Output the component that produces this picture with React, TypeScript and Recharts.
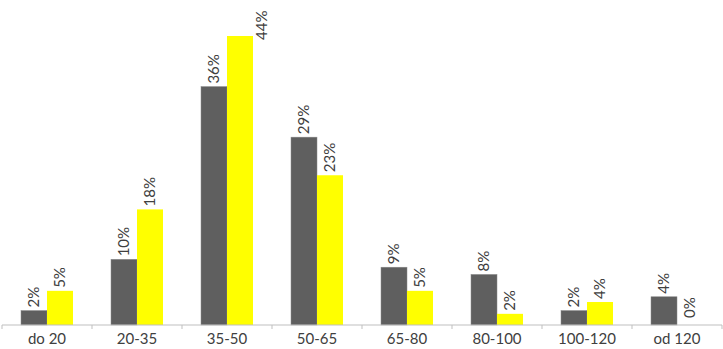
import React from "react";
import { BarChart, Bar, XAxis, YAxis } from "recharts";

const categories = ["do 20", "20-35", "35-50", "50-65", "65-80", "80-100", "100-120", "od 120"];
const grayValues = [2.2, 10.0, 36.3, 28.6, 8.8, 7.7, 2.2, 4.3];
const yellowValues = [5.2, 17.6, 44, 22.8, 5.2, 1.7, 3.5, 0];

const data = categories.map((c, i) => ({ cat: c, gray: grayValues[i], yellow: yellowValues[i] }));

const FONT = "Lato, 'Open Sans', sans-serif";
const LABEL_SIZE = 15;
const TICK_SIZE = 6;
const TICK_MARGIN = 2;
const AXIS_COLOR = "#bfbfbf";

const makeShape = (fill: string, stroke?: string) => (props: any) => {
  const { x, y, width, height, value } = props;
  const v = Array.isArray(value) ? value[1] - value[0] : value;
  const text = `${Math.round(Number(v))}%`;
  const textLen = text.length * LABEL_SIZE * 0.62;
  let baseX = x + width / 2 + LABEL_SIZE * 0.36;
  let baseY = y - 3;
  if (height <= 0.5) baseY = y - 7;
  if (baseY - textLen < 8) {
    baseX = x + width + 9 + LABEL_SIZE * 0.36;
    baseY = y + 4;
  }
  return (
    <g>
      {height > 0 && (
        <rect x={x} y={y} width={width} height={height} fill={fill} stroke={stroke || "none"} strokeWidth={stroke ? 0.5 : 0} />
      )}
      <text
        x={baseX}
        y={baseY}
        transform={`rotate(-90 ${baseX} ${baseY})`}
        textAnchor="start"
        fontFamily={FONT}
        fontSize={LABEL_SIZE}
        fill="#404040"
      >
        {text}
      </text>
    </g>
  );
};

const grayShape = makeShape("#5f5f5f", "#8a8a8a");
const yellowShape = makeShape("#ffff00");

const CategoryTick = (props: any) => {
  const { x, y, width, payload, index, visibleTicksCount } = props;
  const band = width / categories.length;
  const axisY = y - TICK_SIZE - TICK_MARGIN;
  const left = x - band / 2;
  const right = x + band / 2;
  const isLast = index === (visibleTicksCount ?? categories.length) - 1;
  return (
    <g>
      <line x1={left} y1={axisY} x2={left} y2={axisY + 4} stroke={AXIS_COLOR} />
      {isLast && <line x1={right} y1={axisY} x2={right} y2={axisY + 4} stroke={AXIS_COLOR} />}
      <text x={x} y={y} dy="0.71em" textAnchor="middle" fontFamily={FONT} fontSize={15} fill="#404040">
        {payload.value}
      </text>
    </g>
  );
};

export default function App() {
  return (
    <div style={{ position: "absolute", left: 0, top: 0, width: 723, height: 349, background: "#fff" }}>
      <BarChart
        width={723}
        height={349}
        data={data}
        margin={{ top: 36, right: 1, bottom: 0, left: 2 }}
        barGap={0}
      >
        <XAxis
          dataKey="cat"
          height={24}
          axisLine={{ stroke: AXIS_COLOR }}
          tickLine={false}
          tickSize={TICK_SIZE}
          tickMargin={TICK_MARGIN}
          tick={<CategoryTick />}
          interval={0}
        />
        <YAxis hide domain={[0, 44]} />
        <Bar dataKey="gray" barSize={26} isAnimationActive={false} shape={grayShape} />
        <Bar dataKey="yellow" barSize={26} isAnimationActive={false} shape={yellowShape} />
      </BarChart>
    </div>
  );
}
